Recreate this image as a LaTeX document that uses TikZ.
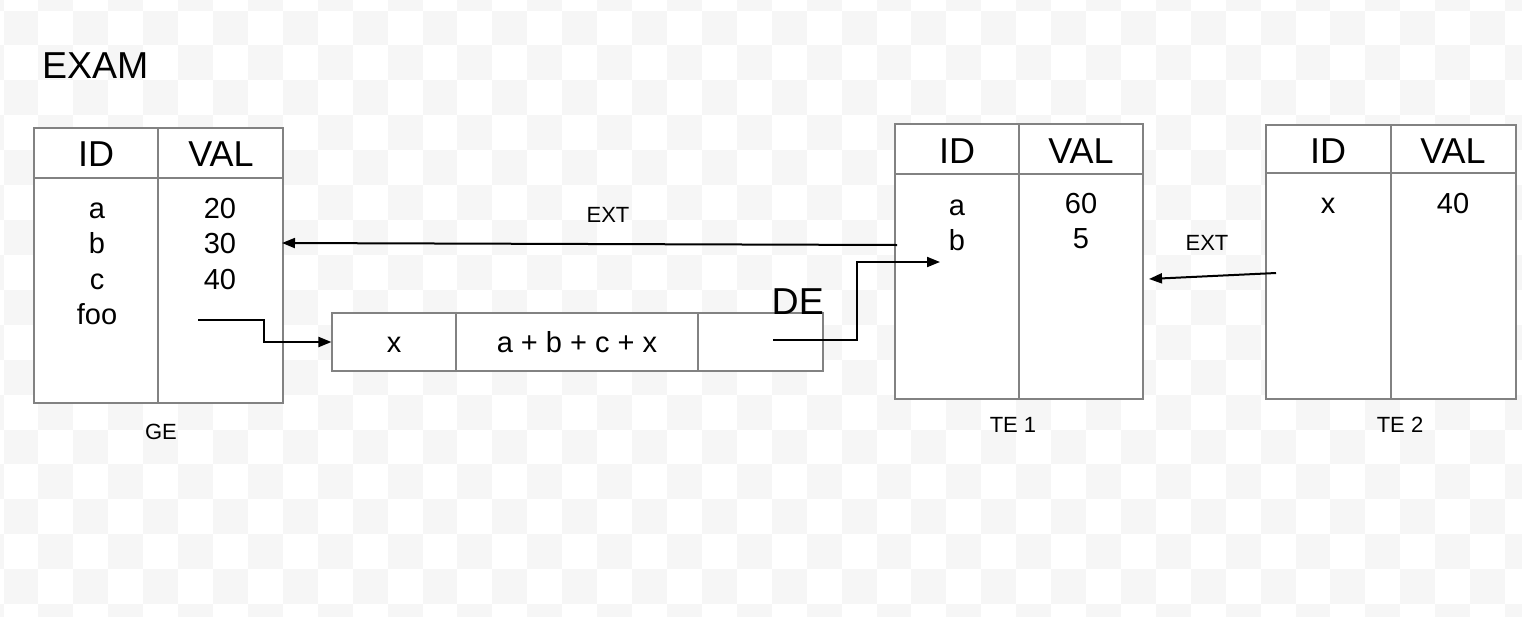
\documentclass[tikz,border=0pt]{standalone}
\usepackage{fontspec}
\setmainfont{Liberation Sans}
\usetikzlibrary{arrows.meta,fit}
\definecolor{chk}{RGB}{246,246,246}
\definecolor{bord}{RGB}{130,130,130}
\begin{document}
\begin{tikzpicture}[x=1pt,y=-1pt,
  tbl/.style={draw=bord,line width=1.1pt,fill=white,inner sep=0pt},
  rule/.style={draw=bord,line width=1.1pt},
  hdr/.style={font=\fontsize{36}{40}\selectfont,anchor=base,inner sep=0pt},
  cell/.style={font=\fontsize{29}{34}\selectfont,anchor=base,inner sep=0pt},
  lbl/.style={font=\fontsize{22}{26}\selectfont,anchor=base,inner sep=0pt},
  big/.style={font=\fontsize{37.5}{42}\selectfont,anchor=base west,inner sep=0pt},
  arr/.style={line width=2pt,-{Triangle[length=13pt,width=10pt]}}]
\useasboundingbox (0,0) rectangle (1522,616);
\fill[white] (0,0) rectangle (1522,616);
\begin{scope}
\clip (0,0) rectangle (1522,616);
\foreach \i in {-1,...,43}{\foreach \j in {-1,...,17}{%
  \pgfmathtruncatemacro{\chkpar}{mod(\i+\j+2,2)}%
  \ifnum\chkpar=0 \fill[chk] ({3.5+34.92*\i},{10.5+34.92*\j}) rectangle ++(34.92,34.92);\fi}}
\end{scope}

% title
\node[big] (exam) at (42,78) {EXAM};

% GE table
\node[tbl,fit={(34,128)(283,403)}] (ge) {};
\draw[rule] (ge.west |- 0,178) -- (ge.east |- 0,178);
\draw[rule] (ge.north -| 158,0) -- (ge.south -| 158,0);
\node[hdr] (geid) at (96,166) {ID};
\node[hdr] (geval) at (221,166) {VAL};
\node[cell] (gea) at (97,218) {a};
\node[cell] (geb) at (97,253.5) {b};
\node[cell] (gec) at (97,289) {c};
\node[cell] (gefoo) at (97,324) {foo};
\node[cell] (ge20) at (220,218) {20};
\node[cell] (ge30) at (220,253.5) {30};
\node[cell] (ge40) at (220,289) {40};
\node[lbl] (gelbl) at (161,439) {GE};

% DE box
\node[tbl,fit={(332,313)(823,371)}] (de) {};
\draw[rule] (456,313) -- (456,371);
\draw[rule] (698,313) -- (698,371);
\node[cell] (dex) at (394,352) {x};
\node[cell] (deexpr) at (577,352) {a + b + c + x};
\node[big] (delbl) at (771.5,314) {DE};

% TE1 table
\node[tbl,fit={(895,124)(1143,399)}] (te1) {};
\draw[rule] (te1.west |- 0,174) -- (te1.east |- 0,174);
\draw[rule] (te1.north -| 1019,0) -- (te1.south -| 1019,0);
\node[hdr] (teaid) at (957,163) {ID};
\node[hdr] (teaval) at (1081,163) {VAL};
\node[cell] (teaa) at (957,215) {a};
\node[cell] (teab) at (957,250) {b};
\node[cell] (tea60) at (1081,213) {60};
\node[cell] (tea5) at (1081,248) {5};
\node[lbl] (tealbl) at (1013,432) {TE 1};

% TE2 table
\node[tbl,fit={(1266,125)(1516,399)}] (te2) {};
\draw[rule] (te2.west |- 0,173) -- (te2.east |- 0,173);
\draw[rule] (te2.north -| 1391,0) -- (te2.south -| 1391,0);
\node[hdr] (tebid) at (1328,163) {ID};
\node[hdr] (tebval) at (1453,163) {VAL};
\node[cell] (tebx) at (1328,213) {x};
\node[cell] (teb40) at (1453,213) {40};
\node[lbl] (teblbl) at (1400,432) {TE 2};

% connector labels
\node[lbl] (ext1) at (608,222) {EXT};
\node[lbl] (ext2) at (1207,250) {EXT};

% connector ends
\coordinate (fooS) at (198,320);
\coordinate (ext1S) at (897,245);
\coordinate (ext1E) at (282,243);
\coordinate (deS) at (773,340);
\coordinate (deE) at (940,262);
\coordinate (ext2S) at (1276,273);
\coordinate (ext2E) at (1149,279);

\draw[arr] (fooS) -- (264,320) |- (de.west);
\draw[arr] (ext1S) -- (ext1E);
\draw[arr] (deS) -- (857,340) |- (deE);
\draw[arr] (ext2S) -- (ext2E);
\end{tikzpicture}
\end{document}
